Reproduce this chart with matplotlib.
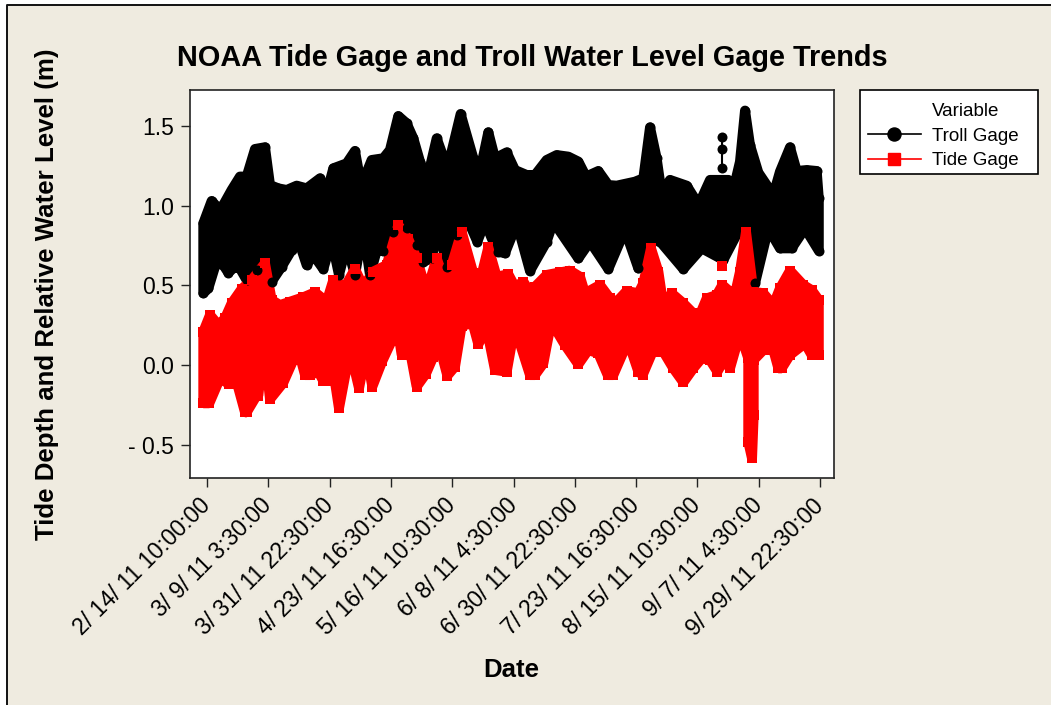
import numpy as np
import matplotlib
matplotlib.use("Agg")
import matplotlib.pyplot as plt
from matplotlib.lines import Line2D
from matplotlib.patches import Rectangle

# x is measured in tick intervals from the first date label
date_labels = ["2/ 14/ 11 10:00:00", "3/ 9/ 11 3:30:00", "3/ 31/ 11 22:30:00",
               "4/ 23/ 11 16:30:00", "5/ 16/ 11 10:30:00", "6/ 8/ 11 4:30:00",
               "6/ 30/ 11 22:30:00", "7/ 23/ 11 16:30:00", "8/ 15/ 11 10:30:00",
               "9/ 7/ 11 4:30:00", "9/ 29/ 11 22:30:00"]
y_ticks = [-0.5, 0.0, 0.5, 1.0, 1.5]
y_tick_labels = ["- 0.5", "0.0", "0.5", "1.0", "1.5"]

# highs of the troll gage
troll_hi_t = [-.06,.076,.185,.266,.402,.538,.647,.783,.946,1.028,1.164,1.3,1.463,1.626,1.843,1.952,
              2.061,2.278,2.414,2.496,2.577,2.686,2.877,2.985,3.121,3.257,3.366,3.475,3.583,3.747,
              3.883,3.964,4.138,4.345,4.453,4.589,4.698,4.889,5.024,5.215,5.351,5.541,5.704,5.895,
              6.058,6.183,6.384,6.547,6.683,6.982,7.118,7.227,7.335,7.417,7.553,7.825,7.988,8.07,
              8.206,8.396,8.505,8.586,8.695,8.777,8.858,8.994,9.239,9.347,9.511,9.62,9.783,9.946,9.98]
troll_hi = [.889,1.029,.983,1.004,1.098,1.182,1.182,1.355,1.366,1.129,1.108,1.098,1.125,1.108,1.171,1.077,
            1.234,1.265,1.343,1.171,1.182,1.286,1.297,1.349,1.562,1.516,1.422,1.276,1.15,1.422,
            1.276,1.297,1.575,1.297,1.213,1.46,1.297,1.334,1.223,1.192,1.192,1.286,1.317,1.307,
            1.276,1.182,1.217,1.129,1.125,1.15,1.171,1.491,1.297,1.077,1.161,1.125,1.025,1.046,
            1.161,1.161,1.161,1.098,1.276,1.596,1.38,1.207,1.067,1.213,1.366,1.217,1.223,1.217,1.046]
# lows of the troll gage
troll_lo_t = [-.06,.022,.147,.266,.348,.457,.538,.647,.81,.93,1.055,1.218,1.381,1.463,1.626,1.735,1.898,
              2.034,2.153,2.278,2.414,2.55,2.659,2.768,2.877,3.04,3.257,3.42,3.529,3.665,3.774,3.91,
              4.073,4.236,4.41,4.535,4.644,4.753,4.861,5.024,5.079,5.269,5.541,5.65,6.058,6.248,
              6.547,6.819,7.037,7.281,7.417,7.771,8.07,8.424,8.75,8.94,9.157,9.347,9.538,9.756,9.98]
troll_lo = [.45,.481,.638,.627,.579,.617,.606,.533,.596,.857,.523,.617,.721,.816,.627,.69,.602,
            .784,.565,.753,.565,.857,.565,.717,.715,.836,.857,.753,.648,.669,.878,.617,
            .816,.926,.774,.899,.795,.711,.701,.857,.857,.59,.774,.899,.669,.774,
            .602,.847,.606,.795,.763,.602,.732,.659,.899,.512,.857,.732,.732,.857,.717]
# stray high readings standing clear of the band
troll_spike_t = [8.4, 8.4, 8.4]
troll_spike = [1.43, 1.355, 1.235]

tide_hi_t = [-.06,.049,.185,.294,.402,.566,.729,.946,1.055,1.191,1.354,1.572,1.762,1.952,2.061,2.251,
             2.414,2.55,2.713,2.931,3.121,3.284,3.42,3.583,3.747,3.937,3.991,4.154,4.345,4.453,4.589,
             4.725,4.916,5.024,5.161,5.297,5.351,5.541,5.759,5.922,6.085,6.166,6.411,6.574,6.683,
             6.846,7.037,7.118,7.243,7.363,7.444,7.58,7.771,7.934,8.016,8.152,8.315,8.407,8.532,
             8.586,8.695,8.793,8.913,9.076,9.239,9.347,9.511,9.728,9.864,9.98]
tide_hi = [.209,.314,.251,.293,.387,.477,.533,.638,.408,.376,.397,.425,.456,.397,.533,.491,
           .602,.491,.586,.627,.878,.79,.669,.46,.669,.46,.627,.836,.575,.523,.738,
           .554,.569,.491,.523,.439,.491,.565,.581,.592,.554,.45,.502,.418,.397,
           .464,.45,.512,.732,.586,.376,.45,.387,.324,.293,.418,.439,.502,.46,
           .397,.586,.836,.46,.45,.376,.481,.592,.502,.47,.408]
tide_lo_t = [-.06,.038,.212,.364,.484,.62,.647,.81,.837,.93,1.028,1.245,1.408,1.49,1.599,1.681,1.816,
             1.898,1.936,2.017,2.153,2.333,2.48,2.594,2.697,2.86,3.013,3.094,3.176,3.284,3.42,3.573,
             3.692,3.774,3.921,4.046,4.154,4.334,4.426,4.562,4.698,4.889,4.986,5.079,5.269,5.351,
             5.487,5.596,5.677,5.84,6.058,6.221,6.384,6.536,6.629,6.819,6.873,7.037,7.107,7.27,
             7.444,7.607,7.771,7.934,8.07,8.206,8.326,8.434,8.532,8.695,8.83,8.83,8.891,8.918,
             8.918,9.076,9.239,9.321,9.375,9.511,9.756,9.864,9.98]
tide_lo = [-.24,-.24,-.084,-.121,-.105,-.297,-.297,-.192,-.192,.136,-.215,-.111,.031,.094,-.063,-.063,-.042,
           -.1,-.1,.073,-.272,.094,-.146,.084,-.136,.025,.151,.268,.063,.146,-.136,-.054,
           .052,.146,-.067,-.01,.247,.261,.13,.23,-.031,-.042,.167,.167,-.063,-.063,
           .01,.23,.23,.125,.004,.094,.073,-.063,-.063,.105,.146,-.042,-.063,.084,
           .084,-.021,-.109,-.021,.042,.031,-.042,.031,-.021,.199,.042,-.481,-.586,-.314,
           .031,.094,.094,-.021,-.021,.063,.136,.063,.063]
tide_spike_t = [8.407]
tide_spike = [.621]

BG = "#EFEBE0"
W, H = 1051, 705
plt.rcParams["font.family"] = "Liberation Sans"

fig = plt.figure(figsize=(W / 100, H / 100), dpi=100, facecolor="white")
# the tan panel with its black edge on the top and left
fig.add_artist(Rectangle((7 / W, 0), 1, 1 - 5 / H, transform=fig.transFigure,
                         facecolor=BG, edgecolor="none", zorder=-2))
fig.add_artist(Line2D([7 / W, 7 / W, 1], [0, 1 - 5 / H, 1 - 5 / H], transform=fig.transFigure,
                      color="#111111", lw=1.4, zorder=-1))
# legend box
fig.add_artist(Rectangle((860 / W, 1 - 174 / H), 178 / W, 84 / H, transform=fig.transFigure,
                         facecolor="white", edgecolor="black", lw=1.2, zorder=1))

ax = fig.add_axes([190 / W, 1 - 478 / H, 644 / W, 388 / H], facecolor="white")

mark = 10 * 0.72  # marker width in points


def band(t_hi, hi, t_lo, lo, color, marker, join):
    # every reading is drawn, the tightly packed cycles fill the band between highs and lows
    xs = np.r_[t_hi, t_lo[::-1]]
    ys = np.r_[hi, lo[::-1]]
    ax.fill(xs, ys, facecolor=color, edgecolor=color, lw=mark, joinstyle=join)
    ax.plot(xs, ys, ls="none", marker=marker, ms=mark, mfc=color, mec=color, mew=0)


band(troll_hi_t, troll_hi, troll_lo_t, troll_lo, "black", "o", "round")
ax.plot(troll_spike_t, troll_spike, color="black", lw=1.5, marker="o", ms=mark, mew=0)
band(tide_hi_t, tide_hi, tide_lo_t, tide_lo, "#FF0000", "s", "bevel")
ax.plot(tide_spike_t, tide_spike, ls="none", marker="s", color="#FF0000", ms=mark, mew=0)

ax.set_xlim((190 - 207) / 61.3, (834 - 207) / 61.3)
ax.set_ylim((365 - 478) / 159.4, (365 - 90) / 159.4)

ax.set_xticks(range(len(date_labels)))
ax.set_xticklabels(date_labels, rotation=45, ha="right", va="center", rotation_mode="anchor", fontsize=16.6)
ax.set_yticks(y_ticks)
ax.set_yticklabels(y_tick_labels, fontsize=16.5)
ax.tick_params(length=6.5, width=1, color="#222222")
ax.tick_params(axis="x", pad=11)
ax.tick_params(axis="y", pad=5)
for s in ax.spines.values():
    s.set_linewidth(1.2)
    s.set_color("#222222")

fig.text(532 / W, 1 - 58 / H, "NOAA Tide Gage and Troll Water Level Gage Trends",
         fontsize=20.8, fontweight="bold", ha="center", va="center")
fig.text(47 / W, 1 - 294 / H, "Tide Depth and Relative Water Level (m)", rotation=90,
         fontsize=18.6, fontweight="bold", ha="center", va="center")
fig.text(511 / W, 1 - 670 / H, "Date", fontsize=18.5, fontweight="bold", ha="center", va="center")

handles = [Line2D([], [], ls="none", label="Variable"),
           Line2D([], [], color="black", lw=1.2, marker="o", ms=9.4, label="Troll Gage"),
           Line2D([], [], color="#FF0000", lw=1.2, marker="s", ms=9, label="Tide Gage")]
fig.legend(handles=handles, loc="upper left", bbox_to_anchor=(868 / W, 1 - 103 / H),
           bbox_transform=fig.transFigure, borderaxespad=0, fontsize=13.5, frameon=False,
           handlelength=2.8, handletextpad=0.6, labelspacing=0.4, borderpad=0)

fig.savefig("out.png", dpi=100, facecolor=fig.get_facecolor())
